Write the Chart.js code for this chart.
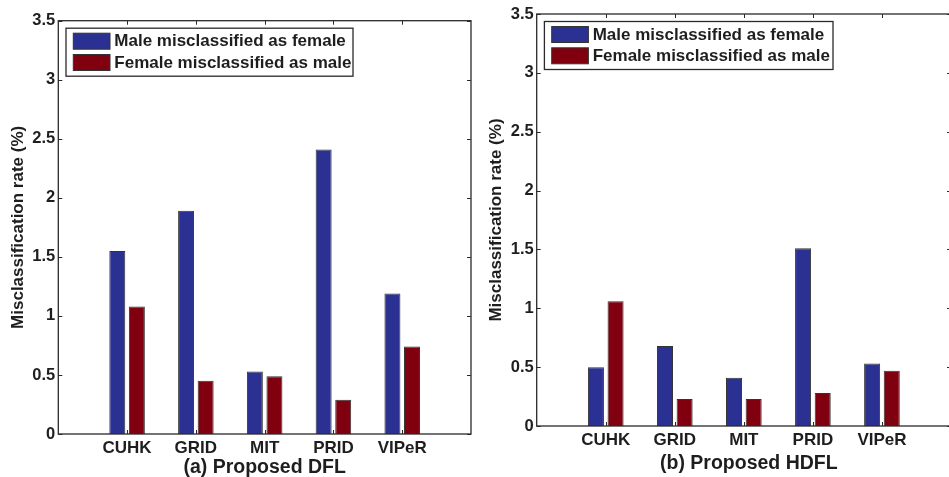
<!DOCTYPE html>
<html>
<head>
<meta charset="utf-8">
<script src="https://cdn.jsdelivr.net/npm/chart.js@4.4.1/dist/chart.umd.min.js"></script>
<style>
  html, body { margin: 0; padding: 0; background: #fff; overflow: hidden; }
  #wrap { position: relative; width: 949px; height: 477px; overflow: hidden; }
  canvas { position: absolute; top: 0; }
  #dflChart { left: 0; }
  #hdflChart { left: 475px; }
</style>
</head>
<body>
<div id="wrap">
  <canvas id="dflChart" width="475" height="477"></canvas>
  <canvas id="hdflChart" width="480" height="477"></canvas>
</div>
<script>
// data
const categories = ["CUHK", "GRID", "MIT", "PRID", "VIPeR"];
const seriesLabels = ["Male misclassified as female", "Female misclassified as male"];
const dflMaleAsFemale = [1.55, 1.89, 0.53, 2.41, 1.19];
const dflFemaleAsMale = [1.08, 0.45, 0.49, 0.29, 0.74];
const hdflMaleAsFemale = [0.50, 0.68, 0.41, 1.51, 0.53];
const hdflFemaleAsMale = [1.06, 0.23, 0.23, 0.28, 0.47];
const yTicks = [0, 0.5, 1, 1.5, 2, 2.5, 3, 3.5];

const FONT = "'Liberation Sans', Arial, Helvetica, sans-serif";
const INK = "#1e1e1e";
const BLUE = "#2b3192";
const RED = "#800010";

// matlab style frame, inward ticks, boxed legend and caption
const matlabLook = {
  id: "matlabLook",
  afterDatasetsDraw(chart, args, opts) {
    const { ctx, chartArea: a, scales } = chart;
    ctx.save();
    ctx.strokeStyle = "#2a2a2a";
    ctx.lineWidth = 1.3;
    ctx.strokeRect(a.left, a.top, a.right - a.left, a.bottom - a.top);

    ctx.lineWidth = 1;
    ctx.beginPath();
    yTicks.forEach(v => {
      const y = Math.round(scales.y.getPixelForValue(v)) + 0.5;
      ctx.moveTo(a.left, y); ctx.lineTo(a.left + 4, y);
      ctx.moveTo(a.right, y); ctx.lineTo(a.right - 4, y);
    });
    categories.forEach((c, i) => {
      const x = Math.round(scales.x.getPixelForValue(i + 1)) + 0.5;
      ctx.moveTo(x, a.bottom); ctx.lineTo(x, a.bottom - 4);
      ctx.moveTo(x, a.top); ctx.lineTo(x, a.top + 4);
    });
    ctx.stroke();

    // legend box
    const bx = a.left + 7.7, by = a.top + 7.5;
    ctx.fillStyle = "#fff";
    ctx.fillRect(bx, by, opts.legendWidth, 48);
    ctx.lineWidth = 1.3;
    ctx.strokeRect(bx, by, opts.legendWidth, 48);
    ctx.font = "bold 17px " + FONT;
    ctx.textBaseline = "middle";
    ctx.textAlign = "left";
    chart.data.datasets.forEach((ds, i) => {
      const sy = by + 5 + i * 21.3;
      ctx.fillStyle = ds.backgroundColor;
      ctx.fillRect(bx + 7.3, sy, 36.7, 16);
      ctx.lineWidth = 1;
      ctx.strokeStyle = "#333";
      ctx.strokeRect(bx + 7.3, sy, 36.7, 16);
      ctx.fillStyle = INK;
      ctx.fillText(ds.label, bx + 48.3, sy + 8.5);
    });

    // caption under the axis
    ctx.font = "bold 19.5px " + FONT;
    ctx.textAlign = "center";
    ctx.fillText(opts.caption, (a.left + a.right) / 2 + opts.captionShift, opts.captionY);
    ctx.restore();
  }
};

function makePanel(canvasId, maleVals, femaleVals, layout) {
  const ctx = document.getElementById(canvasId).getContext("2d");
  const pad = v => [null].concat(v, [null]);

  return new Chart(ctx, {
    type: "bar",
    data: {
      labels: [""].concat(categories, [""]),
      datasets: [{
        label: seriesLabels[0],
        data: pad(maleVals),
        backgroundColor: BLUE,
        borderColor: "#333",
        borderWidth: 1
      }, {
        label: seriesLabels[1],
        data: pad(femaleVals),
        backgroundColor: RED,
        borderColor: "#333",
        borderWidth: 1
      }]
    },
    options: {
      responsive: false,
      animation: false,
      devicePixelRatio: 1,
      categoryPercentage: 0.569,
      barPercentage: 0.816,
      layout: {
        padding: { left: 0, right: layout.padRight, top: layout.top, bottom: 0 }
      },
      plugins: {
        legend: { display: false },
        tooltip: { enabled: false },
        matlabLook: {
          legendWidth: layout.legendWidth,
          caption: layout.caption,
          captionShift: layout.captionShift,
          captionY: layout.captionY
        }
      },
      scales: {
        x: {
          offset: false,
          grid: { display: false, drawTicks: false },
          border: { display: false },
          ticks: {
            color: INK,
            padding: 4,
            autoSkip: false,
            maxRotation: 0,
            font: { family: FONT, size: 17, weight: "bold" }
          },
          afterFit: s => { s.height = layout.xHeight; }
        },
        y: {
          min: 0,
          max: 3.5,
          grid: { display: false, drawTicks: false },
          border: { display: false },
          afterBuildTicks: s => { s.ticks = yTicks.map(v => ({ value: v })); },
          ticks: {
            color: INK,
            padding: 3,
            font: { family: FONT, size: 16.5, weight: "bold" },
            callback: v => String(v)
          },
          title: {
            display: true,
            text: "Misclassification rate (%)",
            color: INK,
            font: { family: FONT, size: 17, weight: "bold", lineHeight: 1.2 },
            padding: { top: layout.yTitlePad, bottom: 0 }
          },
          afterFit: s => { s.width = layout.yWidth; }
        }
      }
    },
    plugins: [matlabLook]
  });
}

makePanel("dflChart", dflMaleAsFemale, dflFemaleAsMale, {
  top: 20.7, padRight: 3.3, yWidth: 58.3, xHeight: 43,
  yTitlePad: 8, legendWidth: 287,
  caption: "(a) Proposed DFL", captionShift: 0, captionY: 468
});

makePanel("hdflChart", hdflMaleAsFemale, hdflFemaleAsMale, {
  top: 14, padRight: 3, yWidth: 61.7, xHeight: 51,
  yTitlePad: 11, legendWidth: 288.6,
  caption: "(b) Proposed HDFL", captionShift: 5, captionY: 464
});
</script>
</body>
</html>
